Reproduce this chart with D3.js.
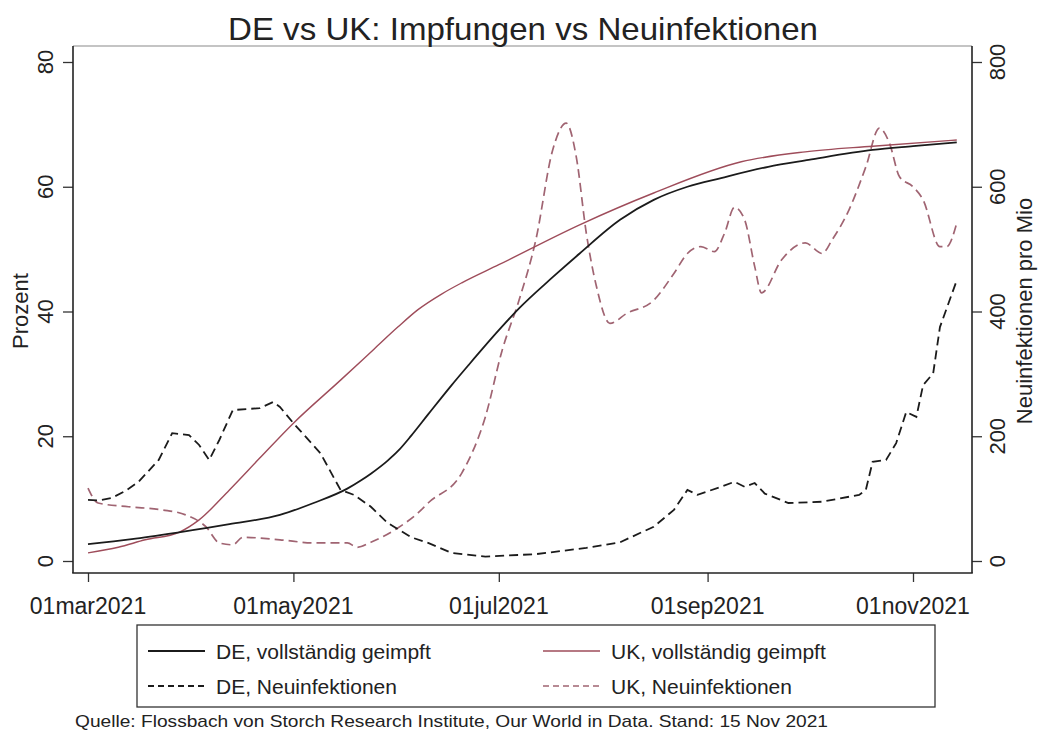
<!DOCTYPE html>
<html>
<head>
<meta charset="utf-8">
<script src="https://cdn.jsdelivr.net/npm/d3@7"></script>
<style>
  html, body { margin: 0; padding: 0; background: #fff; }
  svg { display: block; font-family: "Liberation Sans", Arial, Helvetica, sans-serif; }
</style>
</head>
<body>
<svg id="chart" width="1039" height="738"></svg>
<script>
// ---------- data ----------
const titleText = "DE vs UK: Impfungen vs Neuinfektionen";
const sourceText = "Quelle: Flossbach von Storch Research Institute, Our World in Data. Stand: 15 Nov 2021";
const leftAxisTitle = "Prozent";
const rightAxisTitle = "Neuinfektionen pro Mio";
const xTickDates = ["2021-03-01", "2021-05-01", "2021-07-01", "2021-09-01", "2021-11-01"];
const xTickLabels = ["01mar2021", "01may2021", "01jul2021", "01sep2021", "01nov2021"];
const leftTicks = [0, 20, 40, 60, 80];
const rightTicks = [0, 200, 400, 600, 800];
const seriesNames = ["DE, vollständig geimpft", "UK, vollständig geimpft", "DE, Neuinfektionen", "UK, Neuinfektionen"];

// DE fully vaccinated (%)
const deVaxDates = ["2021-03-01","2021-03-14","2021-03-28","2021-04-12","2021-04-27","2021-05-07","2021-05-17","2021-05-21","2021-05-24","2021-05-29","2021-06-01","2021-06-05","2021-06-10","2021-06-17","2021-06-22","2021-07-01","2021-07-07","2021-07-17","2021-07-25","2021-08-06","2021-08-16","2021-08-26","2021-09-05","2021-09-19","2021-10-01","2021-10-20","2021-11-01","2021-11-14"];
const deVaxValues = [2.7,3.5,4.6,5.9,7.4,9.3,11.6,12.9,14.0,16.1,17.6,20.1,23.5,28.2,31.4,37.0,40.5,45.5,49.3,54.7,57.9,60.0,61.4,63.2,64.3,65.9,66.5,67.1];

// UK fully vaccinated (%)
const ukVaxDates = ["2021-03-01","2021-03-10","2021-03-18","2021-03-28","2021-04-03","2021-04-12","2021-04-21","2021-05-01","2021-05-15","2021-05-25","2021-06-01","2021-06-07","2021-06-14","2021-06-20","2021-07-01","2021-07-25","2021-08-16","2021-09-11","2021-09-30","2021-10-20","2021-11-14"];
const ukVaxValues = [1.3,2.2,3.4,4.6,6.6,11.4,16.5,22.1,29.0,34.0,37.5,40.3,42.8,44.6,47.5,53.9,59.0,64.0,65.6,66.5,67.5];

// DE new infections per million
const deInfDates = ["2021-03-01","2021-03-04","2021-03-08","2021-03-12","2021-03-16","2021-03-22","2021-03-26","2021-03-31","2021-04-03","2021-04-06","2021-04-09","2021-04-13","2021-04-21","2021-04-25","2021-04-27","2021-05-01","2021-05-09","2021-05-15","2021-05-19","2021-05-24","2021-05-29","2021-06-05","2021-06-10","2021-06-17","2021-06-27","2021-07-12","2021-07-27","2021-08-06","2021-08-16","2021-08-22","2021-08-26","2021-08-29","2021-09-05","2021-09-09","2021-09-12","2021-09-15","2021-09-18","2021-09-25","2021-10-05","2021-10-16","2021-10-18","2021-10-20","2021-10-24","2021-10-27","2021-10-30","2021-11-02","2021-11-04","2021-11-07","2021-11-09","2021-11-14"];
const deInfValues = [98,97,101,112,127,162,205,202,186,162,194,242,245,255,247,221,173,114,106,87,61,38,29,13,7,11,21,30,55,82,114,106,119,127,119,125,108,93,95,106,114,159,162,189,239,231,282,301,375,450];

// UK new infections per million
const ukInfDates = ["2021-03-01","2021-03-04","2021-03-13","2021-03-23","2021-03-30","2021-04-05","2021-04-09","2021-04-13","2021-04-16","2021-04-27","2021-05-07","2021-05-17","2021-05-20","2021-05-24","2021-06-01","2021-06-07","2021-06-10","2021-06-20","2021-06-27","2021-07-02","2021-07-07","2021-07-12","2021-07-17","2021-07-21","2021-07-24","2021-07-27","2021-07-30","2021-08-03","2021-08-08","2021-08-16","2021-08-22","2021-08-26","2021-08-30","2021-09-03","2021-09-06","2021-09-09","2021-09-12","2021-09-15","2021-09-17","2021-09-23","2021-09-30","2021-10-05","2021-10-08","2021-10-13","2021-10-18","2021-10-22","2021-10-25","2021-10-28","2021-11-01","2021-11-04","2021-11-09","2021-11-11","2021-11-14"];
const ukInfValues = [117,93,87,82,74,55,29,26,38,34,29,29,22,30,53,77,93,141,231,338,418,515,659,702,648,525,440,381,397,418,461,493,504,496,525,567,547,472,430,483,510,493,515,563,632,694,670,616,600,579,504,504,542];

// ---------- drawing ----------
const parse = d3.utcParse("%Y-%m-%d");
const zip = (ds, vs) => ds.map((d, i) => ({ date: parse(d), value: vs[i] }));

const svg = d3.select("#chart");
const frame = { left: 73, right: 972, top: 46, bottom: 573 };

const x = d3.scaleUtc()
  .domain([parse(xTickDates[0]), parse(xTickDates[xTickDates.length - 1])])
  .range([88, 913]);
const yL = d3.scaleLinear().domain([0, 80]).range([561, 62]);
const yR = d3.scaleLinear().domain([0, 800]).range([561, 62]);

const black = "#1b1b1b";
const ukSolid = "#9e4c5a";
const ukDash = "#a06472";

// frame
svg.append("line").attr("x1", frame.left).attr("x2", frame.right).attr("y1", frame.top).attr("y2", frame.top)
  .attr("stroke", "#8a8a8a").attr("stroke-width", 1.2);

// axes
const fontTick = "22px";
const gL = svg.append("g").attr("transform", `translate(${frame.left},0)`)
  .call(d3.axisLeft(yL).tickValues(leftTicks).tickSize(10).tickFormat(""));
const gR = svg.append("g").attr("transform", `translate(${frame.right},0)`)
  .call(d3.axisRight(yR).tickValues(rightTicks).tickSize(10).tickFormat(""));
const gB = svg.append("g").attr("transform", `translate(0,${frame.bottom})`)
  .call(d3.axisBottom(x).tickValues(xTickDates.map(parse)).tickSize(9).tickFormat(""));
[gL, gR, gB].forEach(g => {
  g.select(".domain").remove();
  g.selectAll(".tick line").attr("stroke", "#333").attr("stroke-width", 1.3);
});
svg.append("line").attr("x1", frame.left).attr("x2", frame.left).attr("y1", frame.top).attr("y2", frame.bottom)
  .attr("stroke", "#222").attr("stroke-width", 1.6);
svg.append("line").attr("x1", frame.right).attr("x2", frame.right).attr("y1", frame.top).attr("y2", frame.bottom)
  .attr("stroke", "#222").attr("stroke-width", 1.6);
svg.append("line").attr("x1", frame.left - 0.8).attr("x2", frame.right + 0.8).attr("y1", frame.bottom).attr("y2", frame.bottom)
  .attr("stroke", "#222").attr("stroke-width", 1.6);

// tick labels
svg.append("g").selectAll("text").data(leftTicks).join("text")
  .attr("transform", d => `translate(53,${yL(d)}) rotate(-90)`)
  .attr("text-anchor", "middle").attr("font-size", fontTick).attr("fill", "#222")
  .text(d => d);
svg.append("g").selectAll("text").data(rightTicks).join("text")
  .attr("transform", d => `translate(1005,${yR(d)}) rotate(-90)`)
  .attr("text-anchor", "middle").attr("font-size", fontTick).attr("fill", "#222")
  .text(d => d);
svg.append("g").selectAll("text").data(xTickDates).join("text")
  .attr("x", d => x(parse(d))).attr("y", 614)
  .attr("text-anchor", "middle").attr("font-size", "23px").attr("fill", "#222")
  .text((d, i) => xTickLabels[i]);

// axis titles
svg.append("text").attr("transform", "translate(28,311) rotate(-90)")
  .attr("text-anchor", "middle").attr("font-size", "22px").attr("fill", "#222").text(leftAxisTitle);
svg.append("text").attr("transform", "translate(1032,311) rotate(-90)")
  .attr("text-anchor", "middle").attr("font-size", "22px").attr("fill", "#222").text(rightAxisTitle);

// title
svg.append("text").attr("x", 523).attr("y", 40).attr("text-anchor", "middle")
  .attr("font-size", "32px").attr("fill", "#222")
  .attr("textLength", 590).attr("lengthAdjust", "spacingAndGlyphs")
  .text(titleText);

// lines
const lineL = d3.line().x(d => x(d.date)).y(d => yL(d.value)).curve(d3.curveMonotoneX);
const lineR = d3.line().x(d => x(d.date)).y(d => yR(d.value)).curve(d3.curveMonotoneX);
const lineRLin = d3.line().x(d => x(d.date)).y(d => yR(d.value)).curve(d3.curveLinear);

const plot = svg.append("g");
plot.append("path").datum(zip(ukInfDates, ukInfValues)).attr("d", lineR)
  .attr("fill", "none").attr("stroke", ukDash).attr("stroke-width", 1.7).attr("stroke-dasharray", "9,5");
plot.append("path").datum(zip(deInfDates, deInfValues)).attr("d", lineRLin)
  .attr("fill", "none").attr("stroke", black).attr("stroke-width", 1.8).attr("stroke-dasharray", "9,5");
plot.append("path").datum(zip(ukVaxDates, ukVaxValues)).attr("d", lineL)
  .attr("fill", "none").attr("stroke", ukSolid).attr("stroke-width", 1.4);
plot.append("path").datum(zip(deVaxDates, deVaxValues)).attr("d", lineL)
  .attr("fill", "none").attr("stroke", black).attr("stroke-width", 1.8);

// legend
const lg = svg.append("g");
lg.append("rect").attr("x", 137).attr("y", 625).attr("width", 798).attr("height", 82)
  .attr("fill", "#fff").attr("stroke", "#333").attr("stroke-width", 1.3);
const legendItems = [
  { name: seriesNames[0], color: black, dash: null, w: 1.8, cx: 148, cy: 651 },
  { name: seriesNames[1], color: ukSolid, dash: null, w: 1.4, cx: 543, cy: 651 },
  { name: seriesNames[2], color: black, dash: "6,4", w: 1.8, cx: 148, cy: 686 },
  { name: seriesNames[3], color: ukDash, dash: "6,4", w: 1.7, cx: 543, cy: 686 }
];
legendItems.forEach(it => {
  lg.append("line").attr("x1", it.cx).attr("x2", it.cx + 57).attr("y1", it.cy).attr("y2", it.cy)
    .attr("stroke", it.color).attr("stroke-width", it.w).attr("stroke-dasharray", it.dash);
  lg.append("text").attr("x", it.cx + 68).attr("y", it.cy + 8)
    .attr("font-size", "21px").attr("fill", "#222").text(it.name);
});

// source
svg.append("text").attr("x", 75).attr("y", 727).attr("font-size", "17px").attr("fill", "#222")
  .attr("textLength", 753).attr("lengthAdjust", "spacingAndGlyphs")
  .text(sourceText);
</script>
</body>
</html>
